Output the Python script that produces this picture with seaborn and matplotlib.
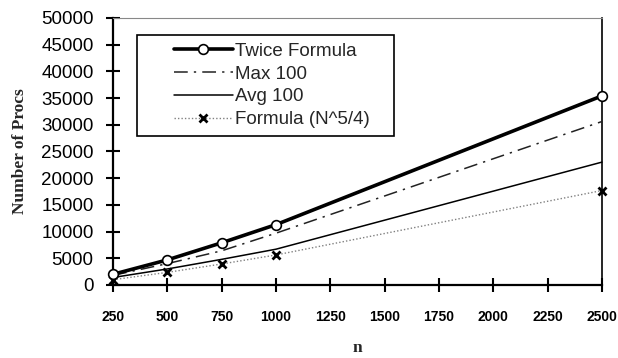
import matplotlib
matplotlib.use("Agg")
import matplotlib.pyplot as plt
from matplotlib.lines import Line2D
from matplotlib.legend_handler import HandlerLine2D
import seaborn as sns

# ---- data ----
n_vals = [250, 500, 750, 1000, 2500]
twice_formula = [2000, 4700, 7900, 11300, 35400]
max_100 = [1800, 4000, 6400, 9700, 30600]
avg_100 = [1400, 3000, 4800, 6700, 23000]
formula_n54 = [990, 2360, 3930, 5620, 17680]

x_ticks = [250, 500, 750, 1000, 1250, 1500, 1750, 2000, 2250, 2500]
y_ticks = [0, 5000, 10000, 15000, 20000, 25000, 30000, 35000, 40000, 45000, 50000]

sns.set_style("white")
plt.rcParams['font.family'] = ['Liberation Sans', 'DejaVu Sans']

fig = plt.figure(figsize=(6.18, 3.58), dpi=100)
ax = fig.add_axes([0.183, 0.204, 0.791, 0.746])

sns.lineplot(x=n_vals, y=formula_n54, ax=ax, color='#808080', lw=1.0,
             linestyle=(0, (1, 1.5)), marker='x', markersize=6,
             markeredgewidth=2, markeredgecolor='black',
             label='Formula (N^5/4)', clip_on=False, zorder=3)
sns.lineplot(x=n_vals, y=avg_100, ax=ax, color='black', lw=1.1,
             label='Avg 100', clip_on=False, zorder=3)
sns.lineplot(x=n_vals, y=max_100, ax=ax, color='#222222', lw=1.1,
             linestyle=(0, (9, 4, 1.5, 4)), label='Max 100',
             clip_on=False, zorder=3)
sns.lineplot(x=n_vals, y=twice_formula, ax=ax, color='black', lw=2.6,
             marker='o', markersize=7, markerfacecolor='white',
             markeredgecolor='black', markeredgewidth=1.2,
             label='Twice Formula', clip_on=False, zorder=4)

ax.set_xlim(250, 2500)
ax.set_ylim(0, 50000)
ax.set_xticks(x_ticks)
ax.set_yticks(y_ticks)
ax.set_xticklabels([str(v) for v in x_ticks], fontweight='bold', fontsize=10,
                   family=['Liberation Sans'])
ax.set_yticklabels([str(v) for v in y_ticks], fontsize=13.5)

ax.tick_params(axis='both', direction='inout', length=10, width=1.5,
               color='black', labelcolor='black')
ax.tick_params(axis='x', pad=13)
ax.tick_params(axis='y', pad=9)
ax.tick_params(left=True, bottom=True)

for side in ['left', 'bottom']:
    ax.spines[side].set_color('black')
    ax.spines[side].set_linewidth(1.6)
ax.spines['right'].set_color('black')
ax.spines['right'].set_linewidth(1.2)
ax.spines['top'].set_color('#888888')
ax.spines['top'].set_linewidth(0.8)
ax.spines['top'].set_linestyle((0, (1, 1)))

ax.set_ylabel('Number of Procs', family=['Liberation Serif'], fontweight='bold',
              fontsize=12.5)
ax.yaxis.set_label_coords(-0.19, 0.5)
ax.yaxis.label.set_va('center')
ax.set_xlabel('n', family=['Liberation Serif'], fontweight='bold', fontsize=12.5)
ax.xaxis.set_label_coords(0.5, -0.235)
ax.xaxis.label.set_va('center')

handles, labels = ax.get_legend_handles_labels()
order = ['Twice Formula', 'Max 100', 'Avg 100', 'Formula (N^5/4)']
hmap = dict(zip(labels, handles))
fs = 13.5
leg = ax.legend([hmap[k] for k in order], order, loc='upper left',
                bbox_to_anchor=(0.049, 0.0, 0.526, 0.936), mode='expand',
                frameon=True, fancybox=False,
                edgecolor='black', framealpha=1, fontsize=fs,
                handlelength=4.68, handletextpad=0.15, labelspacing=0.3,
                borderpad=0.42, borderaxespad=0,
                handler_map={Line2D: HandlerLine2D(xpad=1.55)})
leg.get_frame().set_linewidth(1.2)

fig.savefig('out.png', dpi=100, facecolor='white')
